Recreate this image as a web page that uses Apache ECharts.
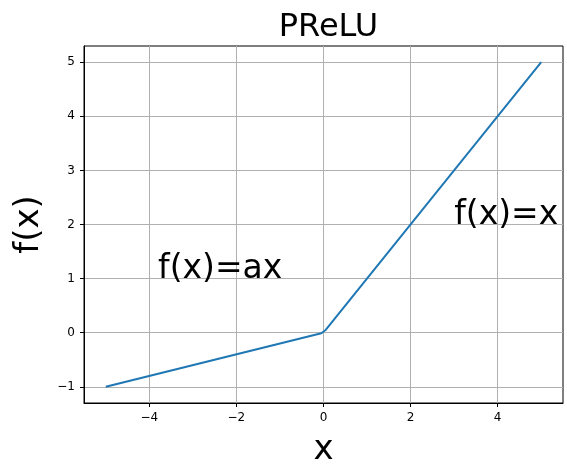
<!DOCTYPE html>
<html>
<head>
<meta charset="utf-8">
<script src="https://cdn.jsdelivr.net/npm/echarts@6/dist/echarts.min.js"></script>
<style>
html,body{margin:0;padding:0;background:#fff;}
#c{width:567px;height:466px;}
</style>
</head>
<body>
<div id="c"></div>
<script>
// Data
const xValues = [-5, -0.0505, 0.0505, 5];
const yValues = [-1, -0.0101, 0.0505, 5];
const xTicks = [-4, -2, 0, 2, 4];
const yTicks = [-1, 0, 1, 2, 3, 4, 5];
const annotTexts = ['f(x)=ax', 'f(x)=x'];
const annotX = [-3.8, 3];
const annotY = [1, 2];
const titleText = 'PReLU';
const xLabel = 'x';
const yLabel = 'f(x)';

const FONT = 'DejaVu Sans';
const fmt = v => String(v).replace('-', '\u2212');

const chart = echarts.init(document.getElementById('c'), null, {renderer: 'canvas'});
chart.setOption({
  animation: false,
  backgroundColor: '#fff',
  title: {
    text: titleText,
    left: 323.5,
    textAlign: 'center',
    top: 7,
    textStyle: {fontFamily: FONT, fontSize: 32, fontWeight: 'normal', color: '#000'}
  },
  grid: {
    left: 84, right: 4, top: 46, bottom: 63,
    show: true, borderColor: '#000', borderWidth: 1,
    outerBoundsMode: 'none'
  },
  xAxis: {
    type: 'value', min: -5.5, max: 5.5,
    name: xLabel, nameLocation: 'middle', nameGap: 30,
    nameTextStyle: {fontFamily: FONT, fontSize: 34, color: '#000'},
    axisLine: {show: true, onZero: false, lineStyle: {color: '#000', width: 1}},
    axisTick: {show: true, customValues: xTicks, length: 4, lineStyle: {color: '#000'}},
    axisLabel: {customValues: xTicks, fontFamily: FONT, fontSize: 12, color: '#000', margin: 9, formatter: fmt},
    splitLine: {show: true, customValues: xTicks, lineStyle: {color: '#b0b0b0', width: 1}}
  },
  yAxis: {
    type: 'value', min: -1.3, max: 5.3,
    name: yLabel, nameLocation: 'middle', nameGap: 36,
    nameTextStyle: {fontFamily: FONT, fontSize: 34, color: '#000'},
    axisLine: {show: true, onZero: false, lineStyle: {color: '#000', width: 1}},
    axisTick: {show: true, customValues: yTicks, length: 4, lineStyle: {color: '#000'}},
    axisLabel: {customValues: yTicks, fontFamily: FONT, fontSize: 12, color: '#000', margin: 9, formatter: fmt},
    splitLine: {show: true, customValues: yTicks, lineStyle: {color: '#b0b0b0', width: 1}}
  },
  series: [
    {
      type: 'line',
      data: xValues.map((x, i) => [x, yValues[i]]),
      showSymbol: false,
      symbol: 'none',
      lineStyle: {color: '#1f77b4', width: 2},
      z: 3
    },
    {
      type: 'scatter',
      symbolSize: 0,
      itemStyle: {opacity: 1},
      data: annotX.map((x, i) => ({value: [x, annotY[i]], name: annotTexts[i]})),
      label: {
        show: true,
        position: [0, 0],
        align: 'left',
        verticalAlign: 'bottom',
        offset: [0, 7],
        formatter: p => p.name,
        fontFamily: FONT, fontSize: 33, color: '#000000', opacity: 1,
        textBorderWidth: 0
      },
      z: 4
    }
  ]
});
</script>
</body>
</html>
